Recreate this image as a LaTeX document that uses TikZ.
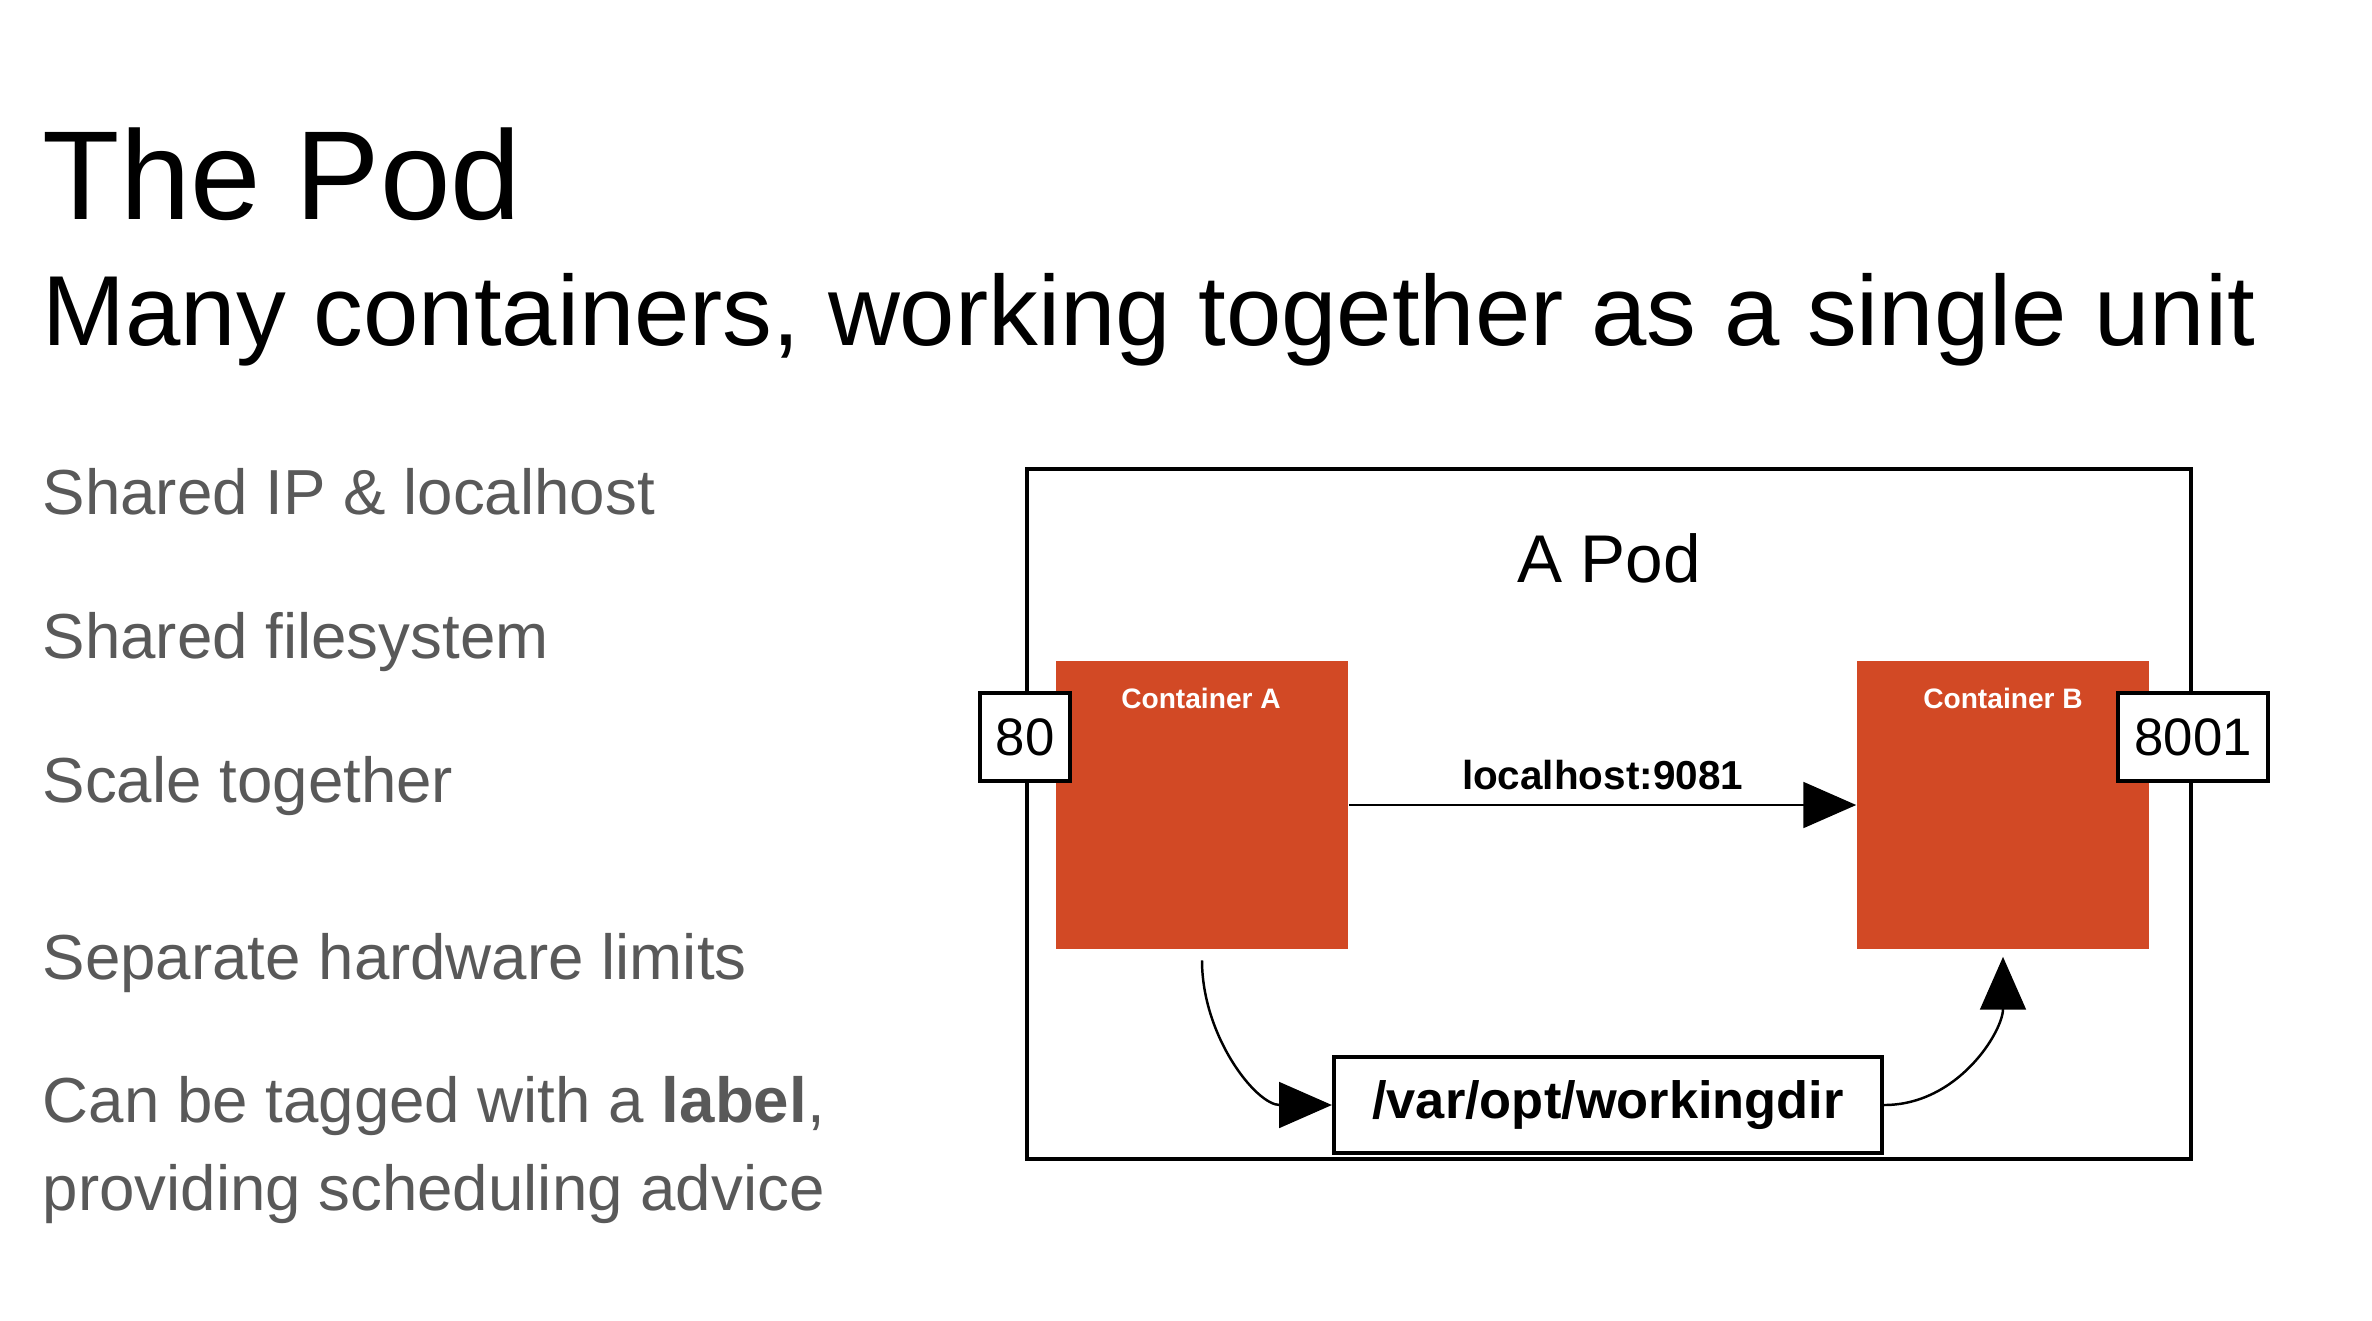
\documentclass[tikz,border=0pt]{standalone}
\usepackage{fontspec}
\setmainfont{Liberation Sans}
\usetikzlibrary{arrows.meta}
\definecolor{podorange}{RGB}{210,73,37}
\definecolor{bulletgray}{RGB}{89,89,89}
\begin{document}
\begin{tikzpicture}[x=0.01cm,y=0.01cm,
    title/.style={anchor=base west,inner sep=0pt,font=\fontsize{36}{43}\selectfont},
    subtitle/.style={anchor=base west,inner sep=0pt,font=\fontsize{28.3}{34}\selectfont},
    point/.style={anchor=base west,inner sep=0pt,text=bulletgray,font=\fontsize{18.1}{22}\selectfont},
    container/.style={fill=podorange,minimum width=2.92cm,minimum height=2.88cm,inner sep=0pt},
    cname/.style={anchor=base,text=white,font=\fontsize{8}{10}\selectfont\bfseries},
    port/.style={draw,line width=1.1pt,fill=white,minimum height=0.88cm,inner sep=0pt,font=\fontsize{15}{18}\selectfont},
    link/.style={line width=0.7pt,-{Triangle[length=15pt,width=13pt]}}]
  \useasboundingbox (0,0) rectangle (2372,-1320);
  \draw
    (42,-219) node[title] (head){The Pod}
    (42,-345) node[subtitle] (sub){Many containers, working together as a single unit}
    (42,-514) node[point] (p1){Shared IP \& localhost}
    (42,-658) node[point] (p2){Shared filesystem}
    (42,-802) node[point] (p3){Scale together}
    (42,-979) node[point] (p4){Separate hardware limits}
    (42,-1122) node[point] (p5){Can be tagged with a \textbf{label},}
    (42,-1210) node[point] (p6){providing scheduling advice};
  % the pod and its containers
  \draw
    (1609,-814) node[draw,line width=1.1pt,minimum width=11.64cm,minimum height=6.9cm] (pod){}
    (1609,-582) node[anchor=base,font=\fontsize{19.2}{23}\selectfont] (podname){A Pod}
    (1202,-805) node[container] (A){}
    (2003,-805) node[container] (B){}
    (1201,-708) node[cname] (nameA){Container A}
    (2003,-708) node[cname] (nameB){Container B}
    (1025,-737) node[port,minimum width=0.9cm] (portA){80}
    (2193,-737) node[port,minimum width=1.5cm] (portB){8001}
    (1608,-1105) node[port,minimum width=5.48cm,minimum height=0.96cm,font=\fontsize{14.9}{18}\selectfont\bfseries] (dir){/var/opt/workingdir};
  \begin{scope}[link]
    \draw (A) to node[above=4pt,inner sep=0pt,font=\fontsize{11.5}{14}\selectfont\bfseries,black] (lh){localhost:9081} (B);
    \draw ([yshift=-3pt]A.south) to[out=-90,in=180] (dir.west);
    \draw (dir.east) to[out=0,in=-90] ([yshift=-2pt]B.south);
  \end{scope}
\end{tikzpicture}
\end{document}
